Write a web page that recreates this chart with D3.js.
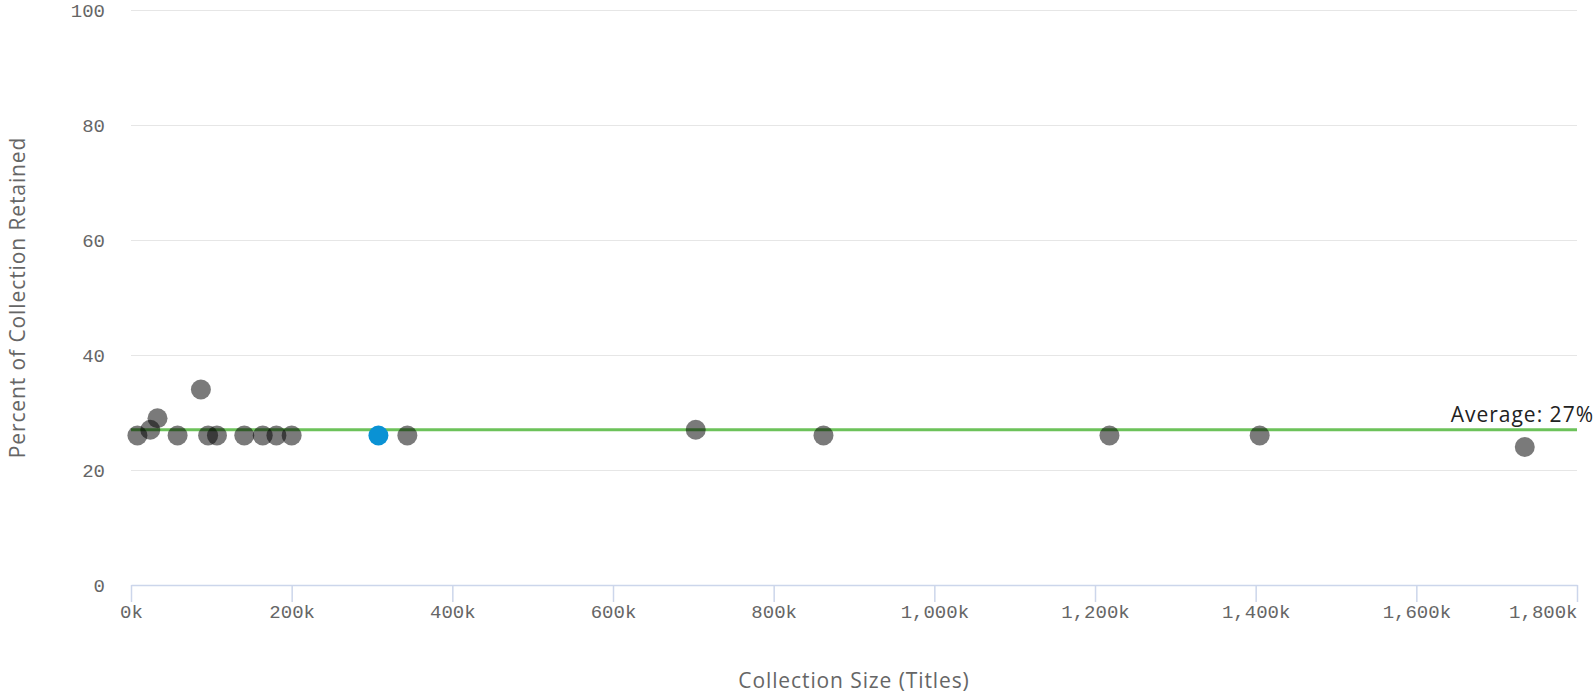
<!DOCTYPE html>
<html>
<head>
<meta charset="utf-8">
<script src="https://cdn.jsdelivr.net/npm/d3@7"></script>
<style>
body { margin: 0; background: #fff; }
.grid line { stroke: #e6e6e6; stroke-width: 1; }
.grid path { display: none; }
.x.axis path, .x.axis line { stroke: #ccd6eb; stroke-width: 1.5; }
.axis text { font-family: "Liberation Mono", "Courier New", monospace; font-size: 19px; fill: #666; }
.title { font-family: "Open Sans", sans-serif; font-size: 21px; letter-spacing: 0.9px; fill: #666; }
</style>
</head>
<body>
<svg id="chart" width="1595" height="694"></svg>
<script>
// collection size (thousands of titles) and percent retained
var sizes = [8, 24, 33, 58, 87, 96, 107, 141, 164, 181, 200, 308, 344, 703, 862, 1218, 1405, 1735]
var retained = [26, 27, 29, 26, 34, 26, 26, 26, 26, 26, 26, 26, 26, 27, 26, 26, 26, 24]
var highlight = [false, false, false, false, false, false, false, false, false, false, false, true, false, false, false, false, false, false]
var average = 27
var xTicks = [0, 200, 400, 600, 800, 1000, 1200, 1400, 1600, 1800]
var yTicks = [0, 20, 40, 60, 80, 100]

var margin = {top: 10, right: 18, bottom: 109, left: 131}
var width = 1595 - margin.left - margin.right
var height = 694 - margin.top - margin.bottom

var xScale = d3.scaleLinear()
    .domain([0, 1800])
    .range([0, width])

var yScale = d3.scaleLinear()
    .domain([0, 100])
    .range([height, 0])

var svg = d3.select("#chart")
var g = svg.append("g")
    .attr("transform", "translate(" + margin.left + "," + margin.top + ")")

// horizontal gridlines
g.append("g")
    .attr("class", "grid")
    .call(d3.axisLeft(yScale)
        .tickValues(yTicks.filter(function(d) { return d > 0 }))
        .tickSize(-width)
        .tickFormat(""))

// y labels, no axis line
var yAxis = g.append("g")
    .attr("class", "y axis")
    .call(d3.axisLeft(yScale).tickValues(yTicks).tickSize(0).tickPadding(26))
yAxis.select(".domain").remove()

// x axis
var fmt = d3.format(",")
var xAxis = g.append("g")
    .attr("class", "x axis")
    .attr("transform", "translate(0," + height + ")")
    .call(d3.axisBottom(xScale)
        .tickValues(xTicks)
        .tickSize(17)
        .tickSizeOuter(0)
        .tickPadding(3)
        .tickFormat(function(d) { return fmt(d) + "k" }))
// last label pulled inside the chart
xAxis.selectAll(".tick text")
    .filter(function(d) { return d === xTicks[xTicks.length - 1] })
    .attr("text-anchor", "end")

// average line
g.append("line")
    .attr("x1", 0)
    .attr("x2", width)
    .attr("y1", yScale(average))
    .attr("y2", yScale(average))
    .attr("stroke", "#6cc25a")
    .attr("stroke-width", 3)

g.append("text")
    .attr("x", 1594 - margin.left)
    .attr("y", yScale(average) - 8)
    .attr("text-anchor", "end")
    .attr("font-family", "'Open Sans', sans-serif")
    .attr("font-size", 21)
    .attr("letter-spacing", "1px")
    .attr("fill", "#222")
    .text("Average: " + average + "%")

// points
var points = sizes.map(function(d, i) { return [d, retained[i], highlight[i]] })
g.selectAll("circle")
    .data(points)
    .enter().append("circle")
    .attr("cx", function(d) { return xScale(d[0]) })
    .attr("cy", function(d) { return yScale(d[1]) })
    .attr("r", 10)
    .attr("fill", function(d) { return d[2] ? "#0a92d4" : "rgba(0,0,0,0.52)" })

// axis titles
svg.append("text")
    .attr("class", "title")
    .attr("x", margin.left + width / 2)
    .attr("y", 688)
    .attr("text-anchor", "middle")
    .text("Collection Size (Titles)")

svg.append("text")
    .attr("class", "title")
    .attr("transform", "translate(25," + (margin.top + height / 2) + ") rotate(-90)")
    .attr("text-anchor", "middle")
    .text("Percent of Collection Retained")
</script>
</body>
</html>
